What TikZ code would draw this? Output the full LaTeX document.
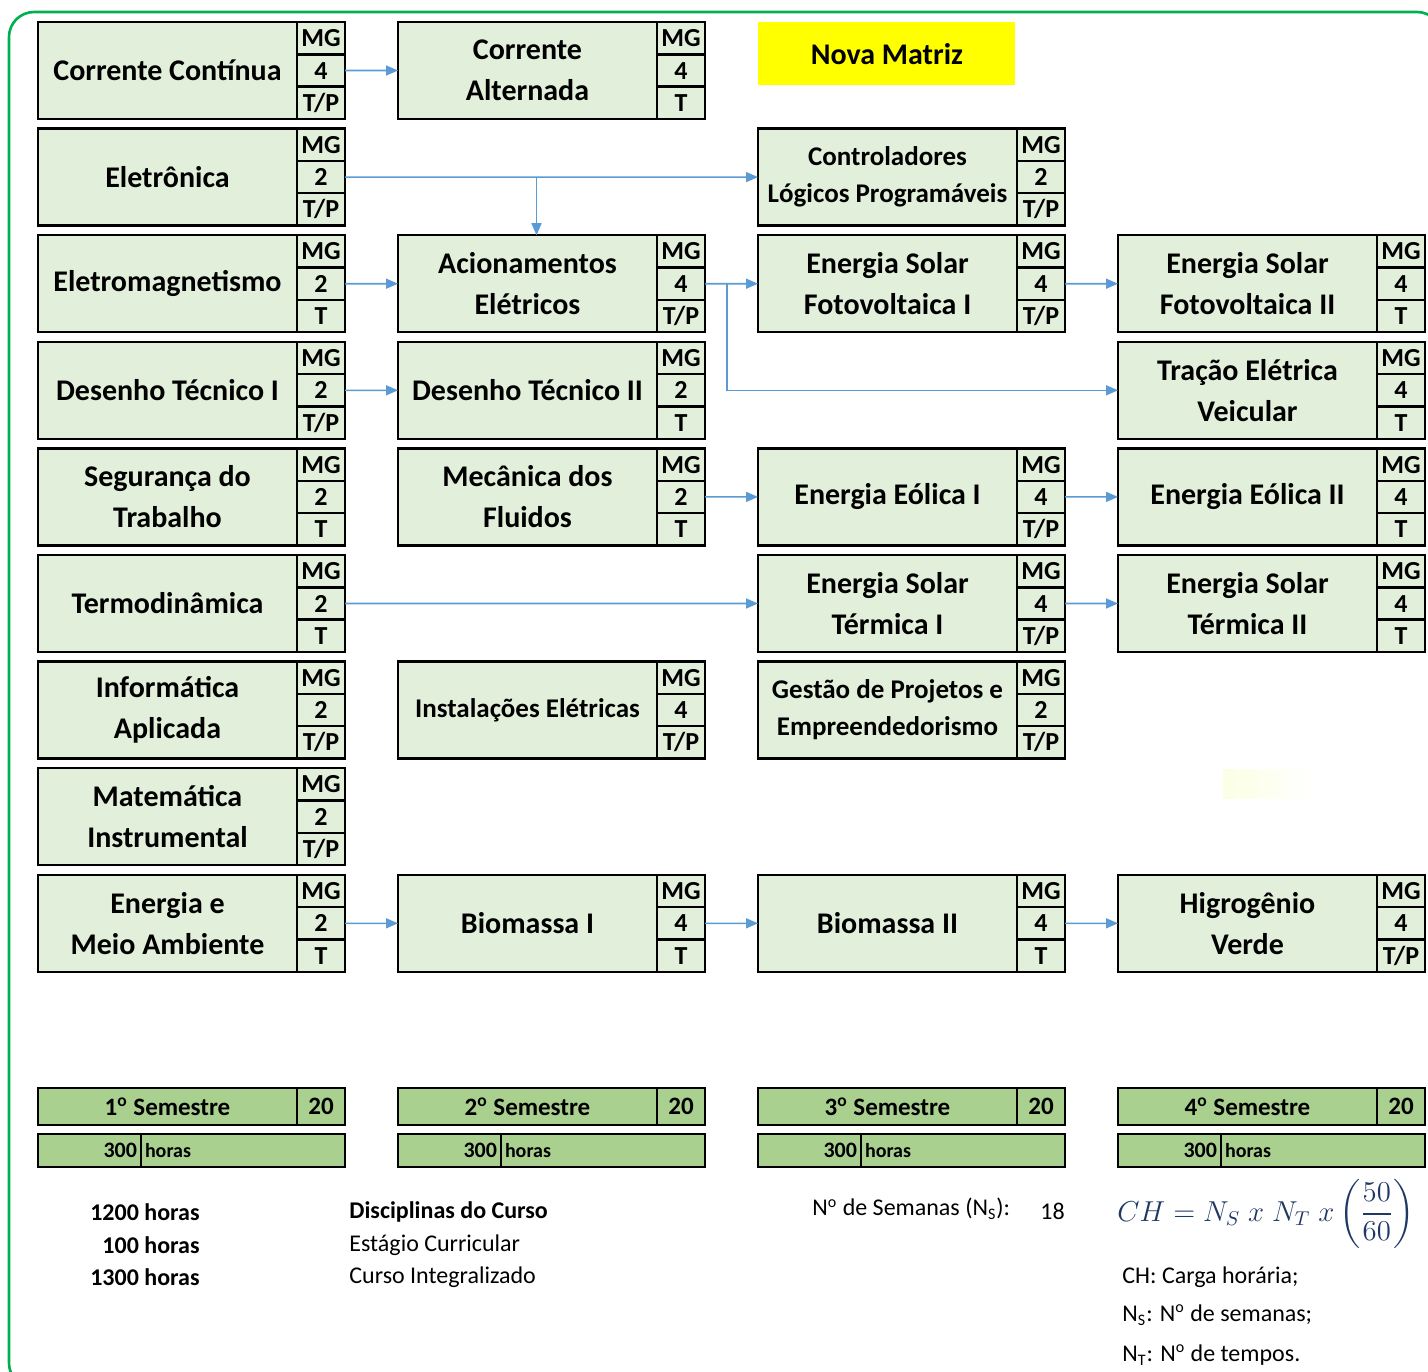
\documentclass[tikz,border=0pt]{standalone}
\usepackage{amsmath}
\usepackage{fontspec}
\setmainfont{Carlito}
\usetikzlibrary{calc,arrows.meta}
\definecolor{boxfill}{HTML}{E2EFDA}
\definecolor{semfill}{HTML}{A9D08E}
\definecolor{link}{HTML}{5B9BD5}
\definecolor{edge}{HTML}{00B050}
\definecolor{hilite}{HTML}{FFFF00}
\definecolor{formula}{HTML}{1F3864}
\tikzset{
  disc/.style={draw=black, line width=1.2pt, fill=boxfill, minimum width=129.5pt, minimum height=48.5pt,
    inner sep=1pt, outer sep=0pt, align=center, font=\fontsize{15}{20.5}\selectfont\bfseries},
  smalltitle/.style={font=\fontsize{13.5}{18.5}\selectfont\bfseries},
  cell/.style={draw=black, line width=1.2pt, fill=boxfill, minimum width=24pt, minimum height=16.17pt,
    inner sep=0pt, outer sep=0pt, text height=8.5pt, text depth=0pt, font=\fontsize{13}{13}\selectfont\bfseries},
  arr/.style={draw=link, line width=0.8pt, -{Triangle[length=6pt,width=5pt]}},
  sem/.style={draw=black, line width=1.2pt, fill=semfill, minimum height=18.5pt, inner sep=0pt, outer sep=0pt,
    font=\fontsize{12.5}{12.5}\selectfont\bfseries},
  hrs/.style={draw=black, line width=1.2pt, fill=semfill, minimum height=16.5pt, inner xsep=2pt, inner ysep=0pt,
    outer sep=0pt, font=\bfseries},
  note/.style={inner sep=0pt, font=\fontsize{12}{14}\selectfont},
  border/.style={draw=edge, line width=1.3pt, rounded corners=12.5pt},
}
% name, x, y, title, credits, type
\newcommand{\course}[7][]{%
  \node[disc,#1,anchor=north west] (#2) at (#3,#4) {#5};
  \node[cell,anchor=north west] (#2-mg) at (#2.north east) {MG};
  \node[cell,anchor=north west] (#2-n) at (#2-mg.south west) {#6};
  \node[cell,anchor=north west] (#2-t) at (#2-n.south west) {#7};
}
% name, x, number
\newcommand{\semester}[3]{%
  \node[sem,minimum width=129.5pt,anchor=north west] (#1) at (#2,1088) {#3\textsuperscript{o} Semestre};
  \node[sem,minimum width=24pt,anchor=north west] (#1-n) at (#1.north east) {20};
  \node[hrs,text width=47.5pt,align=right,anchor=north west] (#1-h) at (#2,1134) {\fontsize{11}{11}\selectfont 300};
  \node[hrs,text width=98pt,align=left,anchor=north west] (#1-u) at (#1-h.north east) {\fontsize{10}{10}\selectfont horas};
}

\begin{document}
\begin{tikzpicture}[x=0.5pt,y=-0.5pt]
  \useasboundingbox (0,0) rectangle (1428,1371);
  \draw[border] (9,12) rectangle (1442,1388);
  \fill[left color=green!12!yellow!10, right color=white] (1223,769) rectangle (1320,798);

  \node[fill=hilite, minimum width=128.5pt, minimum height=31.5pt, anchor=north west,
    font=\fontsize{15}{15}\selectfont\bfseries] (nova) at (758,22) {Nova Matriz};

  % first semester
  \course{cc}{38}{22}{Corrente Contínua}{4}{T/P}
  \course{el}{38}{128.6}{Eletrônica}{2}{T/P}
  \course{em}{38}{235.2}{Eletromagnetismo}{2}{T}
  \course{dt1}{38}{341.8}{Desenho Técnico I}{2}{T/P}
  \course{seg}{38}{448.4}{Segurança do\\Trabalho}{2}{T}
  \course{td}{38}{555}{Termodinâmica}{2}{T}
  \course{inf}{38}{661.6}{Informática\\Aplicada}{2}{T/P}
  \course{mat}{38}{768.2}{Matemática\\Instrumental}{2}{T/P}
  \course{ema}{38}{874.8}{Energia e\\Meio Ambiente}{2}{T}

  % second semester
  \course{ca}{398}{22}{Corrente\\Alternada}{4}{T}
  \course{acn}{398}{235.2}{Acionamentos\\Elétricos}{4}{T/P}
  \course{dt2}{398}{341.8}{Desenho Técnico II}{2}{T}
  \course{mf}{398}{448.4}{Mecânica dos\\Fluidos}{2}{T}
  \course[smalltitle]{ie}{398}{661.6}{Instalações Elétricas}{4}{T/P}
  \course{bio1}{398}{874.8}{Biomassa I}{4}{T}

  % third semester
  \course[smalltitle]{clp}{758}{128.6}{Controladores\\Lógicos Programáveis}{2}{T/P}
  \course{esf1}{758}{235.2}{Energia Solar\\Fotovoltaica I}{4}{T/P}
  \course{eo1}{758}{448.4}{Energia Eólica I}{4}{T/P}
  \course{est1}{758}{555}{Energia Solar\\Térmica I}{4}{T/P}
  \course[smalltitle]{gp}{758}{661.6}{Gestão de Projetos e\\Empreendedorismo}{2}{T/P}
  \course{bio2}{758}{874.8}{Biomassa II}{4}{T}

  % fourth semester
  \course{esf2}{1118}{235.2}{Energia Solar\\Fotovoltaica II}{4}{T}
  \course{tev}{1118}{341.8}{Tração Elétrica\\Veicular}{4}{T}
  \course{eo2}{1118}{448.4}{Energia Eólica II}{4}{T}
  \course{est2}{1118}{555}{Energia Solar\\Térmica II}{4}{T}
  \course{hv}{1118}{874.8}{Higrogênio\\Verde}{4}{T/P}

  % prerequisites
  \coordinate (acntop) at ($(acn.north)+(9,0)$);
  \coordinate (acsplit) at ($(acn-n.east)+(22,0)$);
  \draw[arr] (cc-n.east) -- (ca.west);
  \draw[arr] (el-n.east) -- (clp.west);
  \draw[arr] (el-n.east -| acntop) -- (acntop);
  \draw[arr] (em-n.east) -- (acn.west);
  \draw[arr] (acn-n.east) -- (esf1.west);
  \draw[arr] (acsplit) |- (tev.west);
  \draw[arr] (dt1-n.east) -- (dt2.west);
  \draw[arr] (mf-n.east) -- (eo1.west);
  \draw[arr] (eo1-n.east) -- (eo2.west);
  \draw[arr] (esf1-n.east) -- (esf2.west);
  \draw[arr] (td-n.east) -- (est1.west);
  \draw[arr] (est1-n.east) -- (est2.west);
  \draw[arr] (ema-n.east) -- (bio1.west);
  \draw[arr] (bio1-n.east) -- (bio2.west);
  \draw[arr] (bio2-n.east) -- (hv.west);

  \semester{s1}{38}{1}
  \semester{s2}{398}{2}
  \semester{s3}{758}{3}
  \semester{s4}{1118}{4}

  % totals
  \node[note,font=\fontsize{12}{14}\selectfont\bfseries,anchor=east] (tot1) at (200,1212) {1200 horas};
  \node[note,font=\fontsize{12}{14}\selectfont\bfseries,anchor=east] (tot2) at (200,1245) {100 horas};
  \node[note,font=\fontsize{12}{14}\selectfont\bfseries,anchor=east] (tot3) at (200,1277) {1300 horas};
  \node[note,font=\fontsize{12}{14}\selectfont\bfseries,anchor=west] (lab1) at (349,1212) {Disciplinas do Curso};
  \node[note,anchor=west] (lab2) at (349,1245) {Estágio Curricular};
  \node[note,anchor=west] (lab3) at (349,1277) {Curso Integralizado};
  \node[note,anchor=west] (nsem) at (812,1209) {N\textsuperscript{o} de Semanas (N\textsubscript{S}):};
  \node[note,anchor=west] (nval) at (1040,1211) {18};

  \node[inner sep=0pt,anchor=west,text=formula,font=\fontsize{14}{17}\selectfont] (ch) at (1117,1214)
    {$CH = N_S\;x\;N_T\;x\left(\dfrac{50}{60}\right)$};
  \node[note,anchor=west] (leg1) at (1122,1277) {CH: Carga horária;};
  \node[note,anchor=west] (leg2) at (1122,1315) {N\textsubscript{S}: N\textsuperscript{o} de semanas;};
  \node[note,anchor=west] (leg3) at (1122,1355) {N\textsubscript{T}: N\textsuperscript{o} de tempos.};
\end{tikzpicture}
\end{document}
